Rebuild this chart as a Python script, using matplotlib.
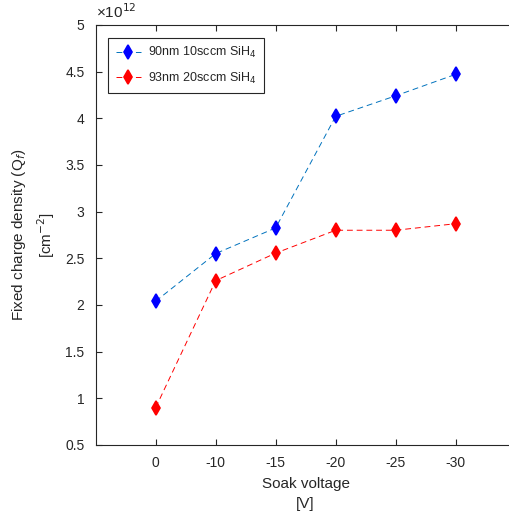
import numpy as np
import matplotlib
matplotlib.use("Agg")
import matplotlib.pyplot as plt

plt.rcParams['font.family'] = ['Liberation Sans', 'DejaVu Sans']

# soak voltage categories and fixed charge density (x 1e12 cm^-2)
voltages = ["0", "-10", "-15", "-20", "-25", "-30"]
qf_90nm = [2.04, 2.55, 2.825, 4.02, 4.24, 4.47]
qf_93nm = [0.90, 2.26, 2.555, 2.80, 2.80, 2.87]

txt = (0.15, 0.15, 0.15)
x = np.arange(1, len(voltages) + 1)

fig = plt.figure(figsize=(5.09, 5.18), dpi=100)
ax = fig.add_axes([0.188, 0.141, 0.825, 0.811])

ax.plot(x, qf_90nm, linestyle=(0, (6, 4)), color=(0, 0.447, 0.741), linewidth=0.7,
        marker='d', markersize=7.5, markeredgewidth=1.2,
        markerfacecolor='b', markeredgecolor='b',
        label="90nm 10sccm SiH$_4$")
ax.plot(x, qf_93nm, linestyle=(0, (6, 4)), color='r', linewidth=0.7,
        marker='d', markersize=7.5, markeredgewidth=1.2,
        markerfacecolor='r', markeredgecolor='r',
        label="93nm 20sccm SiH$_4$")

ax.set_xlim(0, 7)
ax.set_ylim(0.5, 5)
ax.set_xticks(x)
ax.set_xticklabels(voltages)
yt = np.arange(0.5, 5.01, 0.5)
ax.set_yticks(yt)
ax.set_yticklabels(["%g" % v for v in yt])
ax.tick_params(direction='in', top=True, right=True, length=4, width=0.8,
               labelsize=10, colors=txt, pad=8)
for s in ax.spines.values():
    s.set_color(txt)
    s.set_linewidth(0.8)

ax.set_xlabel("Soak voltage\n[V]", fontsize=11, color=txt, labelpad=5,
              linespacing=1.5)
ax.set_ylabel("Fixed charge density (Q$_f$)\n[cm$^{-2}$]", fontsize=11,
              color=txt, labelpad=6, linespacing=1.4)
ax.text(0.0, 1.01, "\u00d710$^{12}$", transform=ax.transAxes, fontsize=11,
        color=txt, ha='left', va='bottom')

leg = ax.legend(loc='upper left', bbox_to_anchor=(0.03, 0.969), borderaxespad=0,
                fontsize=9, fancybox=False, edgecolor=txt, framealpha=1,
                handlelength=2.0, handletextpad=0.6, borderpad=0.6,
                labelspacing=0.8)
leg.get_frame().set_linewidth(0.8)
for t in leg.get_texts():
    t.set_color(txt)

fig.savefig("out.png", dpi=100)
